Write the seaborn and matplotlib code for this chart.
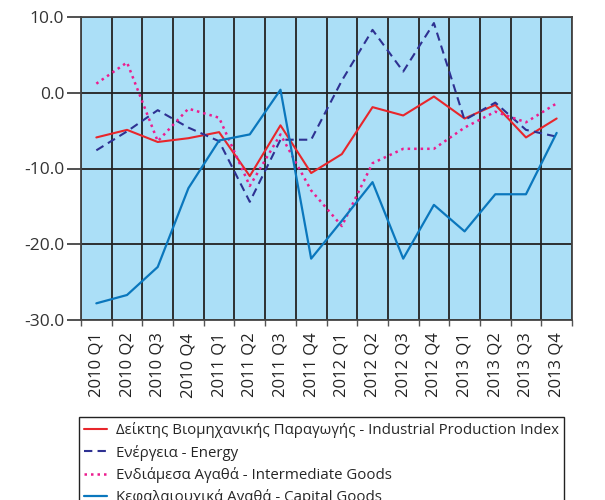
import matplotlib
matplotlib.use("Agg")
import matplotlib.pyplot as plt
import seaborn as sns
import pandas as pd
import numpy as np

quarters = ["2010 Q1", "2010 Q2", "2010 Q3", "2010 Q4",
            "2011 Q1", "2011 Q2", "2011 Q3", "2011 Q4",
            "2012 Q1", "2012 Q2", "2012 Q3", "2012 Q4",
            "2013 Q1", "2013 Q2", "2013 Q3", "2013 Q4"]

industrial = [-5.9, -4.9, -6.5, -6.0, -5.2, -11.0, -4.3, -10.6,
              -8.1, -1.9, -3.0, -0.5, -3.4, -1.6, -5.9, -3.4]
energy = [-7.6, -5.1, -2.3, -4.6, -6.4, -14.4, -6.2, -6.2,
          1.6, 8.3, 2.8, 9.2, -3.6, -1.3, -4.9, -5.8]
intermediate = [1.2, 4.0, -6.4, -2.1, -3.3, -12.3, -5.5, -12.9,
                -17.6, -9.3, -7.4, -7.4, -4.6, -2.5, -3.9, -1.4]
capital = [-27.8, -26.7, -23.0, -12.6, -6.3, -5.5, 0.4, -21.9,
           -16.9, -11.8, -21.9, -14.8, -18.3, -13.4, -13.4, -5.3]

names = ["Δείκτης Βιομηχανικής Παραγωγής - Industrial Production Index",
         "Ενέργεια - Energy",
         "Ενδιάμεσα Αγαθά - Intermediate Goods",
         "Κεφαλαιουχικά Αγαθά - Capital Goods"]

sns.set_theme(style="white")
plt.rcParams['font.family'] = ['Open Sans', 'DejaVu Sans']

fig = plt.figure(figsize=(6.05, 5.0), dpi=100)
ax = fig.add_axes([81/605, 1-320/500, (572-81)/605, (320-17)/500])
ax.set_facecolor("#abdff7")

x = np.arange(len(quarters))
series = [industrial, energy, intermediate, capital]
colors = ["#e8262b", "#2e3192", "#ec1c8e", "#0a77bd"]
styles = ["-", (0, (4, 2.5)), (0, (1, 1.6)), "-"]
widths = [1.5, 1.5, 1.8, 1.6]

handles = []
for vals, nm, c, ls, lw in zip(series, names, colors, styles, widths):
    df = pd.DataFrame({"x": x, "y": vals})
    sns.lineplot(data=df, x="x", y="y", ax=ax, color=c, linewidth=lw, zorder=3)
    ax.lines[-1].set_linestyle(ls)
    handles.append(ax.lines[-1])

ax.set_xlim(-0.5, len(quarters) - 0.5)
ax.set_ylim(-30, 10)
ax.set_yticks([-30, -20, -10, 0, 10])
ax.set_yticklabels([f"{v:.1f}" for v in [-30, -20, -10, 0, 10]])
ax.set_xticks(x)
ax.set_xticklabels(quarters, rotation=90)
ax.set_xticks(np.arange(-0.5, len(quarters), 1.0), minor=True)
ax.set_xlabel("")
ax.set_ylabel("")

ax.grid(True, which="minor", axis="x", color="#222222", linewidth=1.3, zorder=1)
ax.grid(True, which="major", axis="y", color="#222222", linewidth=1.3, zorder=1)
ax.grid(False, which="major", axis="x")
ax.set_axisbelow(True)

for s in ax.spines.values():
    s.set_color("#444444")
    s.set_linewidth(1.3)

ax.tick_params(axis="y", which="major", length=10, width=1.2, color="#333333",
               labelsize=12.5, labelcolor="#333333", pad=2, left=True)
ax.tick_params(axis="x", which="major", length=0, labelsize=12,
               labelcolor="#222222", pad=9)
ax.tick_params(axis="x", which="minor", length=4, width=1, color="#555555",
               bottom=True)

leg = fig.legend(handles, names, loc="upper left",
                 bbox_to_anchor=(79/605, 1-417/500), fontsize=10.8,
                 frameon=True, fancybox=False, framealpha=1,
                 edgecolor="#222222", handlelength=1.5, handletextpad=0.6,
                 labelspacing=0.42, borderpad=0.35, borderaxespad=0)
leg.get_frame().set_linewidth(1.0)

fig.savefig("out.png", dpi=100)
